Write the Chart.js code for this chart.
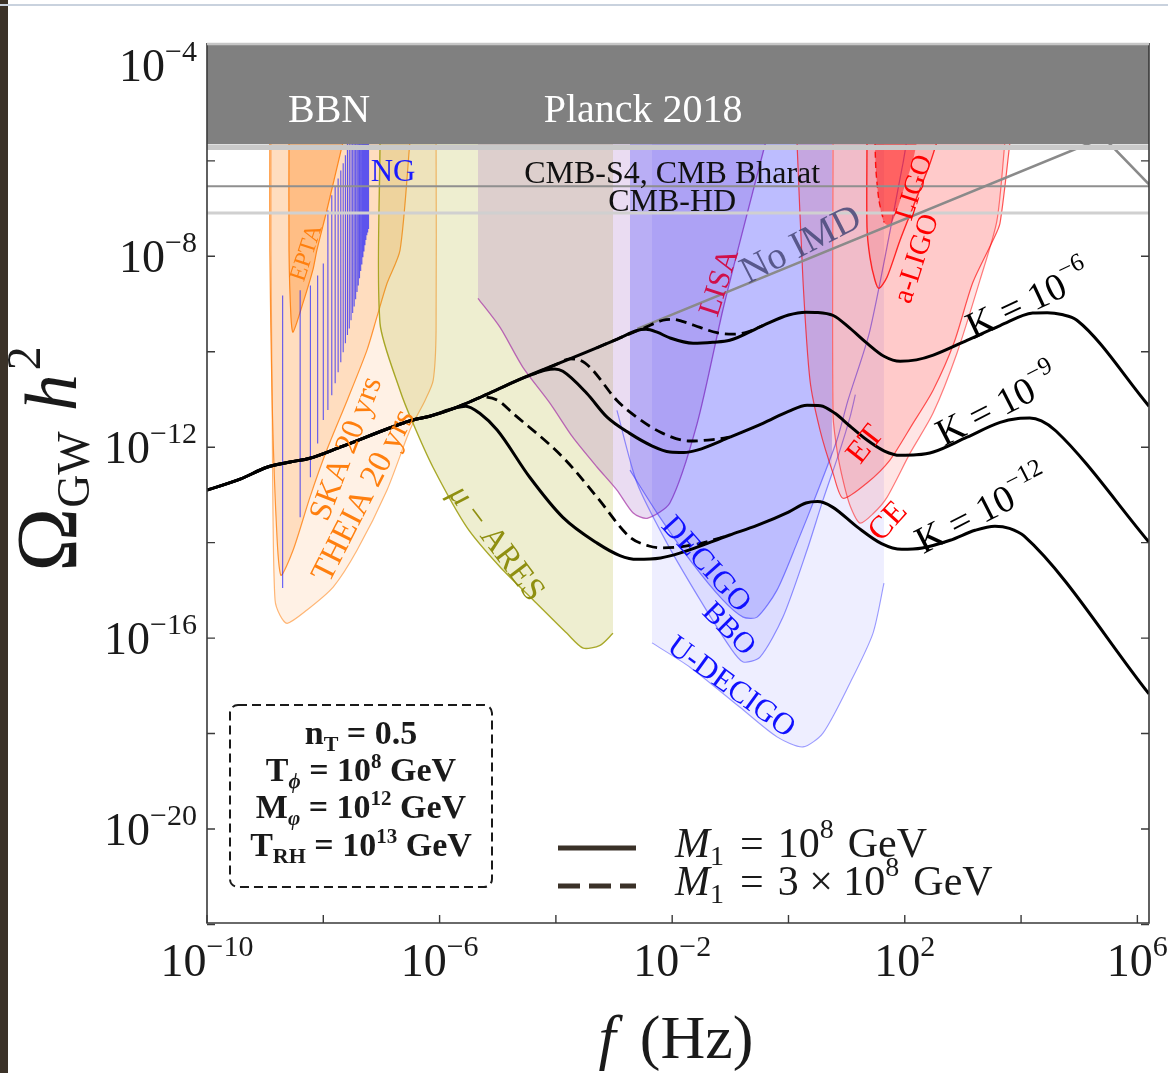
<!DOCTYPE html>
<html>
<head>
<meta charset="utf-8">
<script src="https://cdn.jsdelivr.net/npm/chart.js@4.4.1/dist/chart.umd.min.js"></script>
<style>
  html, body { margin: 0; padding: 0; background: #fff; }
  body { width: 1168px; height: 1073px; position: relative; overflow: hidden; }
  #c { position: absolute; left: 0; top: 0; }
  #edge { position: absolute; left: 0; top: 0; width: 8px; height: 1073px; background: #3b3228; }
  #topline { position: absolute; left: 0; top: 4px; width: 1168px; height: 2px; background: #c9d2de; }
</style>
</head>
<body>
<canvas id="c" width="1168" height="1073"></canvas>
<div id="edge"></div>
<div id="topline"></div>
<script>
// All values are [log10(f / Hz), log10(Omega_GW h^2)]

// axis ranges and tick positions
const xRange = [-10, 6.2];
const yRange = [-21.97, -3.53];
const xTicks = [-10, -8, -6, -4, -2, 0, 2, 4, 6];
const yTicks = [-22, -20, -18, -16, -14, -12, -10, -8, -6, -4];
const xTickLabels = [-10, -6, -2, 2, 6];
const yTickLabels = [-4, -8, -12, -16, -20];

// upper bounds
const bbnLimit = -5.65;
const cmbS4 = -6.53;
const cmbHD = -7.09;

// pulsar timing arrays
const theiaEdge = [[-8.90,-5.6],[-8.90,-7.87],[-8.88,-11.02],[-8.865,-13.47],[-8.83,-15.20],[-8.745,-15.52],[-8.62,-15.69],[-8.28,-15.41],[-7.83,-14.93],[-7.42,-14.16],[-6.905,-12.90],[-6.56,-11.79],[-6.457,-11.50],[-6.25,-11.02],[-6.11,-10.60],[-6.06,-9.55],[-6.06,-5.6]];
const skaEdge = [[-8.92,-5.6],[-8.92,-7.87],[-8.88,-11.02],[-8.81,-13.53],[-8.73,-14.68],[-8.52,-14.16],[-8.23,-13.05],[-7.94,-12.06],[-7.59,-11.02],[-7.25,-9.97],[-7.08,-9.28],[-6.905,-8.57],[-6.68,-7.87],[-6.51,-5.6]];
const eptaEdge = [[-8.59,-5.6],[-8.59,-7.87],[-8.556,-9.28],[-8.52,-9.59],[-8.35,-8.98],[-8.18,-8.29],[-8.11,-7.87],[-7.94,-7.04],[-7.66,-5.6]];

// NANOGrav frequency bins and violin extents
const ngLogF = [-8.699,-8.398,-8.222,-8.097,-8.000,-7.921,-7.854,-7.796,-7.745,-7.699,-7.658,-7.620,-7.585,-7.553,-7.523,-7.495,-7.469,-7.444,-7.420,-7.398,-7.377,-7.357,-7.337,-7.319,-7.301,-7.284,-7.268,-7.252,-7.237,-7.222];
const ngLow = [-14.95,-13.47,-12.63,-11.92,-11.43,-11.22,-10.91,-10.66,-10.43,-10.22,-10.01,-9.82,-9.65,-9.51,-9.34,-9.19,-9.05,-8.90,-8.75,-8.61,-8.46,-8.31,-8.17,-8.02,-7.90,-7.77,-7.66,-7.56,-7.50,-7.43];
const ngHigh = [-8.82,-8.71,-8.61,-8.40,-8.15,-7.04,-6.72,-6.55,-6.37,-6.20,-6.05,-5.88,-5.6,-5.6,-5.6,-5.6,-5.6,-5.6,-5.6,-5.6,-5.6,-5.6,-5.6,-5.6,-5.6,-5.6,-5.6,-5.6,-5.6,-5.6];

// space and ground based detectors
const aresEdge = [[-7.025,-5.6],[-7.025,-9.40],[-6.68,-10.81],[-6.457,-11.50],[-6.114,-12.42],[-5.53,-13.68],[-4.96,-14.51],[-4.39,-15.20],[-3.81,-15.90],[-3.53,-16.21],[-3.24,-16.15],[-3.018,-15.90]];
const lisaEdge = [[-5.34,-8.88],[-4.96,-9.49],[-4.57,-10.32],[-4.10,-11.08],[-3.71,-11.79],[-3.29,-12.42],[-2.95,-12.90],[-2.67,-13.38],[-2.43,-13.49],[-2.04,-13.17],[-1.57,-11.50],[-1.13,-9.13],[-0.83,-7.67],[-0.39,-5.6]];
const decigoBand = [[-2.726,-12.48],[-2.26,-13.38],[-1.69,-14.37],[-1.13,-15.20],[-0.78,-15.56],[-0.54,-15.56],[-0.20,-15.00],[0.146,-14.01],[0.49,-12.96],[0.748,-12.13]];
const decigoCurve = [[-2.726,-12.48],[-2.26,-13.38],[-1.69,-14.37],[-1.13,-15.20],[-0.78,-15.56],[-0.54,-15.56],[-0.20,-15.00],[0.146,-14.01],[0.49,-12.96],[0.834,-11.85],[1.023,-11.02],[1.401,-9.55],[1.969,-6.05],[2.03,-5.6]];
const bboBand = [[-2.726,-12.23],[-2.605,-12.75],[-2.09,-14.01],[-1.52,-15.20],[-1.006,-16.19],[-0.78,-16.50],[-0.49,-16.40],[-0.095,-15.56],[0.318,-14.16],[0.593,-13.11],[0.748,-12.59]];
const bboCurve = [[-2.95,-11.23],[-2.605,-12.75],[-2.09,-14.01],[-1.52,-15.20],[-1.006,-16.19],[-0.78,-16.50],[-0.49,-16.40],[-0.095,-15.56],[0.318,-14.16],[0.593,-13.11],[0.886,-12.06],[1.058,-11.37],[1.15,-10.9]];
const uDecigoEdge = [[-2.347,-16.10],[-1.694,-16.61],[-0.834,-17.45],[-0.198,-18.07],[0.249,-18.28],[0.593,-17.99],[1.058,-16.94],[1.453,-15.90],[1.642,-14.85]];
const etEdge = [[0.146,-5.6],[0.249,-8.50],[0.370,-10.60],[0.542,-11.64],[0.765,-12.54],[0.937,-13.07],[1.35,-12.75],[1.745,-12.27],[2.141,-11.50],[2.485,-10.81],[2.85,-9.80],[3.17,-8.55],[3.517,-7.665],[3.637,-7.31],[3.81,-5.6]];
const ceEdge = [[0.765,-5.6],[0.765,-11.29],[0.834,-12.06],[0.937,-12.69],[1.058,-13.22],[1.23,-13.59],[1.45,-13.40],[1.694,-13.05],[2.089,-12.13],[2.485,-11.29],[2.897,-10.03],[3.293,-8.50],[3.585,-7.25],[3.723,-5.6]];
const aLigoEdge = [[1.35,-5.6],[1.35,-7.39],[1.401,-8.02],[1.487,-8.50],[1.556,-8.67],[1.694,-8.44],[1.917,-7.67],[2.141,-6.97],[2.434,-6.05],[2.554,-5.6]];
const ligoEdge = [[1.487,-5.6],[1.504,-6.20],[1.556,-6.83],[1.642,-7.29],[1.745,-7.35],[1.865,-7.04],[2.003,-6.51],[2.141,-5.99],[2.21,-5.6]];
const ligoDashed = [[1.487,-5.6],[1.504,-6.20],[1.556,-6.83],[1.642,-7.29]];

// spectra
const noImd = [[-2.60,-9.52],[5.42,-5.51],[6.2,-6.49]];
const sharedRise = [[-10,-12.90],[-9.43,-12.67],[-8.97,-12.42],[-8.57,-12.31],[-8.23,-12.23],[-7.71,-12.00],[-6.46,-11.43],[-6.17,-11.35],[-5.74,-11.18]];
const k6Solid = sharedRise.concat([[-5.20,-10.90],[-4.70,-10.62],[-4.19,-10.36],[-3.76,-10.15],[-3.30,-9.92],[-2.90,-9.71],[-2.62,-9.56],[-2.45,-9.53],[-2.26,-9.59],[-2.04,-9.71],[-1.64,-9.82],[-1.30,-9.80],[-1.01,-9.76],[-0.44,-9.45],[0.0,-9.23],[0.30,-9.17],[0.50,-9.175],[0.77,-9.24],[1.05,-9.50],[1.35,-9.82],[1.65,-10.10],[1.92,-10.20],[2.20,-10.17],[2.49,-10.07],[3.07,-9.76],[3.64,-9.45],[4.20,-9.19],[4.45,-9.18],[4.70,-9.22],[4.96,-9.34],[6.2,-11.14]]);
const k6Dashed = [[-3.30,-9.92],[-2.90,-9.71],[-2.50,-9.51],[-2.16,-9.34],[-1.98,-9.32],[-1.81,-9.37],[-1.52,-9.49],[-1.23,-9.60],[-0.95,-9.63],[-0.71,-9.59],[-0.44,-9.45]];
const k9Solid = sharedRise.concat([[-5.20,-10.90],[-4.70,-10.62],[-4.39,-10.47],[-4.19,-10.39],[-4.02,-10.36],[-3.88,-10.41],[-3.47,-10.87],[-3.12,-11.37],[-2.73,-11.71],[-2.35,-11.97],[-2.04,-12.10],[-1.80,-12.11],[-1.57,-12.06],[-1.01,-11.79],[-0.44,-11.50],[0.0,-11.25],[0.32,-11.12],[0.55,-11.13],[0.80,-11.29],[1.05,-11.55],[1.35,-11.85],[1.65,-12.08],[1.92,-12.17],[2.20,-12.16],[2.49,-12.10],[3.07,-11.79],[3.64,-11.48],[3.95,-11.40],[4.15,-11.39],[4.35,-11.45],[4.60,-11.66],[6.2,-13.99]]);
const k9Dashed = [[-4.39,-10.47],[-4.00,-10.27],[-3.76,-10.15],[-3.60,-10.17],[-3.41,-10.33],[-2.95,-11.02],[-2.61,-11.37],[-2.16,-11.71],[-1.69,-11.87],[-1.30,-11.84],[-1.01,-11.79]];
const k12Solid = sharedRise.concat([[-5.55,-11.14],[-5.30,-11.30],[-5.01,-11.64],[-4.45,-12.63],[-3.88,-13.47],[-3.29,-14.01],[-2.90,-14.27],[-2.60,-14.35],[-2.20,-14.32],[-1.87,-14.22],[-1.01,-13.84],[-0.54,-13.64],[0.0,-13.36],[0.30,-13.17],[0.50,-13.14],[0.75,-13.25],[1.18,-13.67],[1.60,-14.02],[1.95,-14.14],[2.30,-14.11],[2.78,-13.95],[3.21,-13.74],[3.55,-13.655],[3.80,-13.70],[4.05,-13.86],[6.2,-17.17]]);
const k12Dashed = [[-5.74,-11.18],[-5.50,-11.06],[-5.25,-10.95],[-5.00,-11.02],[-4.74,-11.29],[-3.88,-12.21],[-3.29,-13.05],[-2.73,-13.88],[-2.40,-14.07],[-2.16,-14.11],[-1.57,-14.03],[-1.01,-13.84]];

// ---------------------------------------------------------------
const pts = a => a.map(([x, y]) => ({ x, y }));
const datasets = [];
function area(data, fill, line, width, extra) {
  datasets.push(Object.assign({
    data: pts(data), fill: 'end', backgroundColor: fill,
    borderColor: line || 'rgba(0,0,0,0)', borderWidth: width || 1,
    tension: 0.25, pointRadius: 0
  }, extra || {}));
}
function curve(data, color, width, extra) {
  datasets.push(Object.assign({
    data: pts(data), fill: false, borderColor: color, borderWidth: width,
    tension: 0.25, pointRadius: 0
  }, extra || {}));
}

// shaded sensitivity regions (drawn first)
area(theiaEdge, 'rgba(255,127,14,0.11)', 'rgba(255,127,14,0.55)', 1.2);
area(skaEdge, 'rgba(255,127,14,0.18)', 'rgba(255,127,14,0.8)', 1.2);
area(eptaEdge, 'rgba(255,127,14,0.33)', 'rgba(255,127,14,0.9)', 1.2);
area(aresEdge, 'rgba(170,170,20,0.20)', 'rgba(160,160,20,0.9)', 1.4);
area(lisaEdge, 'rgba(150,80,190,0.20)', 'rgba(170,60,170,0.75)', 1.3);
area(uDecigoEdge, 'rgba(0,0,255,0.065)', 'rgba(60,60,255,0.5)', 1.1);
area(bboBand, 'rgba(0,0,255,0.08)', null, 0);
area(decigoBand, 'rgba(0,0,255,0.14)', null, 0);
curve(bboCurve, 'rgba(60,60,255,0.55)', 1.2);
curve(decigoCurve, 'rgba(60,60,255,0.6)', 1.2);
area(ceEdge, 'rgba(255,0,0,0.10)', 'rgba(255,0,0,0.5)', 1.2);
area(etEdge, 'rgba(255,0,0,0.12)', 'rgba(255,0,0,0.65)', 1.2);
area(aLigoEdge, 'rgba(255,0,0,0.12)', 'rgba(255,20,20,0.9)', 1.4);
area(ligoEdge, 'rgba(255,0,0,0.45)', null, 0);
curve(ligoDashed, 'rgba(255,0,0,0.9)', 1.4, { borderDash: [6, 4] });

// NANOGrav violins as vertical strokes
const ngData = [];
ngLogF.forEach((f, i) => { ngData.push([f, ngLow[i]], [f, ngHigh[i]], [f, null]); });
curve(ngData, 'rgba(30,30,255,0.72)', 1.1, { tension: 0, spanGaps: false });

// CMB projections
curve([[xRange[0], cmbS4], [xRange[1], cmbS4]], '#8f8f8f', 2, { tension: 0 });
curve([[xRange[0], cmbHD], [xRange[1], cmbHD]], '#d0d0d0', 3, { tension: 0 });

// spectrum without intermediate matter domination
curve(noImd, '#8a8a8a', 2.6, { tension: 0 });

// spectra for the three K values
const mono = { cubicInterpolationMode: 'monotone' };
curve(k6Dashed, '#000', 2.8, Object.assign({ borderDash: [11, 6] }, mono));
curve(k9Dashed, '#000', 2.8, Object.assign({ borderDash: [11, 6] }, mono));
curve(k12Dashed, '#000', 2.8, Object.assign({ borderDash: [11, 6] }, mono));
curve(k6Solid, '#000', 3, mono);
curve(k9Solid, '#000', 3, mono);
curve(k12Solid, '#000', 3, mono);

// BBN / Planck bound on top
area([[xRange[0] - 0.3, bbnLimit], [xRange[1] + 0.3, bbnLimit]], '#808080', null, 0, { tension: 0 });
curve([[xRange[0] - 0.3, bbnLimit - 0.07], [xRange[1] + 0.3, bbnLimit - 0.07]], '#c9c9c9', 5, { tension: 0 });

datasets.forEach((d, i) => { d.order = datasets.length - i; });

// ---------------------------------------------------------------
const FONT = '"Liberation Serif", "Times New Roman", serif';
const T = (t, s, o) => Object.assign({ t, s }, o || {});
function setFont(ctx, p) { ctx.font = (p.i ? 'italic ' : '') + (p.b ? 'bold ' : '') + p.s + 'px ' + FONT; }
function measure(ctx, parts) {
  let w = 0;
  for (const p of parts) { setFont(ctx, p); w += ctx.measureText(p.t).width + (p.gap || 0); }
  return w;
}
function drawParts(ctx, x, y, parts, align) {
  const w = measure(ctx, parts);
  let cx = align === 'center' ? x - w / 2 : align === 'right' ? x - w : x;
  for (const p of parts) {
    setFont(ctx, p);
    ctx.fillText(p.t, cx, y + (p.dy || 0));
    cx += ctx.measureText(p.t).width + (p.gap || 0);
  }
}

// text placed inside the plot: [log f, log Omega, rotation, colour, parts]
const plotLabels = [
  [-7.90, -4.90, 0, '#ffffff', [T('BBN', 40)]],
  [-2.50, -4.90, 0, '#ffffff', [T('Planck 2018', 40)]],
  [-2.00, -6.24, 0, '#111111', [T('CMB-S4, CMB Bharat', 32)]],
  [-2.00, -6.83, 0, '#111111', [T('CMB-HD', 32)]],
  [-6.80, -6.20, 0, '#1a1aff', [T('NG', 31)]],
  [-8.31, -7.92, -72, '#ff7f0e', [T('EPTA', 24)]],
  [-7.63, -12.02, -69, '#ff7f0e', [T('SKA 20 yrs', 32)]],
  [-7.33, -13.00, -63, '#ff7f0e', [T('THEIA 20 yrs', 33)]],
  [-5.00, -13.99, 53, '#8f8f10', [T('μ', 33, { i: 1 }), T(' − ARES', 33)]],
  [-1.21, -8.54, -72, '#d0104a', [T('LISA', 31)]],
  [0.20, -7.73, -27, 'rgba(70,70,120,0.85)', [T('No IMD', 38)]],
  [2.14, -6.55, -72, '#ff0000', [T('LIGO', 28)]],
  [2.18, -8.04, -72, '#ff0000', [T('a-LIGO', 29)]],
  [1.30, -11.92, -52, '#ff0000', [T('ET', 32)]],
  [1.69, -13.53, -48, '#ff0000', [T('CE', 32)]],
  [-1.40, -14.43, 48, '#1010ff', [T('DECIGO', 31)]],
  [-1.01, -15.79, 45, '#1010ff', [T('BBO', 30)]],
  [-0.97, -17.00, 36, '#1010ff', [T('U-DECIGO', 31)]],
  [4.12, -8.92, -25, '#000000', [T('K = 10', 38), T('−6', 25, { dy: -18 })]],
  [3.59, -11.12, -27, '#000000', [T('K = 10', 38), T('−9', 25, { dy: -18 })]],
  [3.33, -13.32, -27, '#000000', [T('K = 10', 38), T('−12', 25, { dy: -18 })]]
];

const decor = {
  id: 'decor',
  afterDatasetsDraw(chart) {
    const ctx = chart.ctx;
    const sx = chart.scales.x, sy = chart.scales.y;
    const a = chart.chartArea;
    ctx.save();
    // labels in the plot
    for (const [f, o, rot, color, parts] of plotLabels) {
      const x = sx.getPixelForValue(f), y = sy.getPixelForValue(o);
      ctx.save();
      ctx.translate(x, y);
      ctx.rotate(rot * Math.PI / 180);
      ctx.fillStyle = color;
      ctx.textBaseline = 'alphabetic';
      drawParts(ctx, 0, parts[0].s * 0.33, parts, 'center');
      ctx.restore();
    }

    // frame
    ctx.lineWidth = 1.6;
    ctx.strokeStyle = '#3a3a3a';
    ctx.beginPath();
    ctx.moveTo(a.left, a.top); ctx.lineTo(a.left, a.bottom); ctx.lineTo(a.right, a.bottom); ctx.lineTo(a.right, a.top);
    ctx.stroke();
    ctx.strokeStyle = '#c6c6c6'; ctx.lineWidth = 2.5;
    ctx.beginPath(); ctx.moveTo(a.left, a.top + 1); ctx.lineTo(a.right, a.top + 1); ctx.stroke();

    // inward ticks
    ctx.strokeStyle = '#3a3a3a'; ctx.lineWidth = 1.4;
    ctx.beginPath();
    for (const v of xTicks) {
      const x = sx.getPixelForValue(v);
      ctx.moveTo(x, a.bottom); ctx.lineTo(x, a.bottom - 8);
    }
    for (const v of yTicks) {
      const y = sy.getPixelForValue(v);
      if (y < a.top + 100) continue;
      ctx.moveTo(a.left, y); ctx.lineTo(a.left + 8, y);
      ctx.moveTo(a.right, y); ctx.lineTo(a.right - 8, y);
    }
    ctx.stroke();

    // tick labels
    ctx.fillStyle = '#1a1a1a';
    for (const v of yTickLabels) {
      const y = sy.getPixelForValue(v);
      drawParts(ctx, 197, y + 16, [T('10', 46), T('−' + Math.abs(v), 30, { dy: -20 })], 'right');
    }
    for (const v of xTickLabels) {
      const x = sx.getPixelForValue(v);
      const e = v < 0 ? '−' + Math.abs(v) : String(v);
      drawParts(ctx, x, 976, [T('10', 46), T(e, 30, { dy: -20 })], 'center');
    }

    // axis titles
    drawParts(ctx, 676, 1058, [T('f', 62, { i: 1, gap: 24 }), T('(Hz)', 62)], 'center');
    ctx.save();
    ctx.translate(76, 459);
    ctx.rotate(-Math.PI / 2);
    drawParts(ctx, 0, 0, [T('Ω', 86), T('GW', 46, { dy: 13, gap: 20 }), T('h', 74, { i: 1, gap: 4 }), T('2', 48, { dy: -36 })], 'center');
    ctx.restore();

    // parameter box
    ctx.save();
    ctx.strokeStyle = '#1a1a1a'; ctx.lineWidth = 2; ctx.setLineDash([9, 5]);
    ctx.beginPath();
    if (ctx.roundRect) ctx.roundRect(230, 705, 262, 182, 8); else ctx.rect(230, 705, 262, 182);
    ctx.stroke();
    ctx.restore();
    ctx.fillStyle = '#1a1a1a';
    const B = (t, s, o) => T(t, s, Object.assign({ b: 1 }, o || {}));
    drawParts(ctx, 361, 744, [B('n', 34), B('T', 22, { dy: 7 }), B(' = 0.5', 34)], 'center');
    drawParts(ctx, 361, 781, [B('T', 34), B('ϕ', 21, { dy: 7, i: 1 }), B(' = 10', 34), B('8', 21, { dy: -13 }), B(' GeV', 34)], 'center');
    drawParts(ctx, 361, 818, [B('M', 34), B('φ', 21, { dy: 7, i: 1 }), B(' = 10', 34), B('12', 21, { dy: -13 }), B(' GeV', 34)], 'center');
    drawParts(ctx, 361, 856, [B('T', 34), B('RH', 22, { dy: 7 }), B(' = 10', 34), B('13', 21, { dy: -13 }), B(' GeV', 34)], 'center');

    // line-style key
    ctx.strokeStyle = '#3a3128'; ctx.lineWidth = 5;
    ctx.beginPath(); ctx.moveTo(558, 848); ctx.lineTo(636, 848); ctx.stroke();
    ctx.setLineDash([22, 9]);
    ctx.beginPath(); ctx.moveTo(558, 886); ctx.lineTo(636, 886); ctx.stroke();
    ctx.setLineDash([]);
    ctx.fillStyle = '#1a1a1a';
    drawParts(ctx, 675, 857, [T('M', 42, { i: 1 }), T('1', 28, { dy: 8, gap: 16 }), T('=', 42, { gap: 14 }), T('10', 42), T('8', 28, { dy: -19, gap: 14 }), T('GeV', 42)], 'left');
    drawParts(ctx, 675, 895, [T('M', 42, { i: 1 }), T('1', 28, { dy: 8, gap: 16 }), T('=', 42, { gap: 14 }), T('3 × 10', 42), T('8', 28, { dy: -19, gap: 14 }), T('GeV', 42)], 'left');
    ctx.restore();
  }
};

new Chart(document.getElementById('c'), {
  type: 'line',
  data: { datasets },
  options: {
    responsive: false,
    animation: false,
    devicePixelRatio: 1,
    layout: { padding: { left: 207, right: 19, top: 43, bottom: 150 } },
    scales: {
      x: { type: 'linear', min: xRange[0], max: xRange[1], display: false },
      y: { type: 'linear', min: yRange[0], max: yRange[1], display: false }
    },
    plugins: { legend: { display: false }, tooltip: { enabled: false } },
    elements: { point: { radius: 0 } }
  },
  plugins: [decor]
});
</script>
</body>
</html>
